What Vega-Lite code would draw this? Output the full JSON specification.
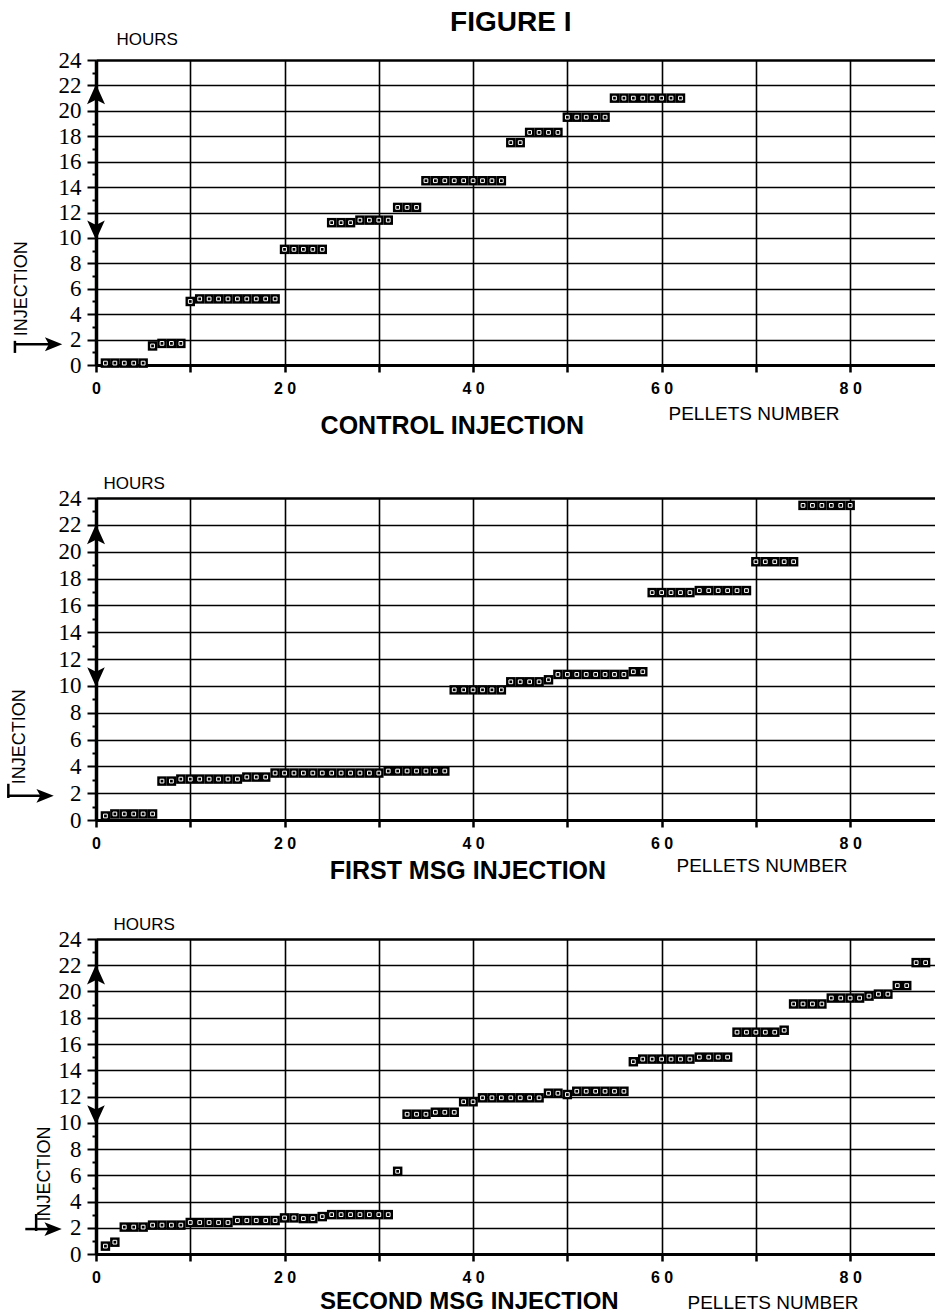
{
  "$schema": "https://vega.github.io/schema/vega-lite/v6.json",
  "background": "white",
  "padding": {"left": 6, "top": 8, "right": 0, "bottom": 0},
  "config": {
    "view": {"stroke": null},
    "font": "Liberation Sans",
    "axis": {"labelColor": "black", "titleColor": "black", "domainColor": "black", "tickColor": "black", "gridColor": "black"}
  },
  "datasets": {
    "p1": [
      {"n":1,"h":0.15},{"n":2,"h":0.15},{"n":3,"h":0.15},{"n":4,"h":0.15},{"n":5,"h":0.15},
      {"n":6,"h":1.5},{"n":7,"h":1.7},{"n":8,"h":1.7},{"n":9,"h":1.7},
      {"n":10,"h":5.0},{"n":11,"h":5.2},{"n":12,"h":5.2},{"n":13,"h":5.2},{"n":14,"h":5.2},{"n":15,"h":5.2},{"n":16,"h":5.2},{"n":17,"h":5.2},{"n":18,"h":5.2},{"n":19,"h":5.2},
      {"n":20,"h":9.1},{"n":21,"h":9.1},{"n":22,"h":9.1},{"n":23,"h":9.1},{"n":24,"h":9.1},
      {"n":25,"h":11.2},{"n":26,"h":11.2},{"n":27,"h":11.2},{"n":28,"h":11.4},{"n":29,"h":11.4},{"n":30,"h":11.4},{"n":31,"h":11.4},
      {"n":32,"h":12.4},{"n":33,"h":12.4},{"n":34,"h":12.4},
      {"n":35,"h":14.5},{"n":36,"h":14.5},{"n":37,"h":14.5},{"n":38,"h":14.5},{"n":39,"h":14.5},{"n":40,"h":14.5},{"n":41,"h":14.5},{"n":42,"h":14.5},{"n":43,"h":14.5},
      {"n":44,"h":17.5},{"n":45,"h":17.5},
      {"n":46,"h":18.3},{"n":47,"h":18.3},{"n":48,"h":18.3},{"n":49,"h":18.3},
      {"n":50,"h":19.5},{"n":51,"h":19.5},{"n":52,"h":19.5},{"n":53,"h":19.5},{"n":54,"h":19.5},
      {"n":55,"h":21.0},{"n":56,"h":21.0},{"n":57,"h":21.0},{"n":58,"h":21.0},{"n":59,"h":21.0},{"n":60,"h":21.0},{"n":61,"h":21.0},{"n":62,"h":21.0}
    ],
    "p2": [
      {"n":1,"h":0.3},{"n":2,"h":0.45},{"n":3,"h":0.45},{"n":4,"h":0.45},{"n":5,"h":0.45},{"n":6,"h":0.45},
      {"n":7,"h":2.9},{"n":8,"h":2.9},
      {"n":9,"h":3.05},{"n":10,"h":3.05},{"n":11,"h":3.05},{"n":12,"h":3.05},{"n":13,"h":3.05},{"n":14,"h":3.05},{"n":15,"h":3.05},
      {"n":16,"h":3.2},{"n":17,"h":3.2},{"n":18,"h":3.2},
      {"n":19,"h":3.5},{"n":20,"h":3.5},{"n":21,"h":3.5},{"n":22,"h":3.5},{"n":23,"h":3.5},{"n":24,"h":3.5},{"n":25,"h":3.5},{"n":26,"h":3.5},{"n":27,"h":3.5},{"n":28,"h":3.5},{"n":29,"h":3.5},{"n":30,"h":3.5},
      {"n":31,"h":3.65},{"n":32,"h":3.65},{"n":33,"h":3.65},{"n":34,"h":3.65},{"n":35,"h":3.65},{"n":36,"h":3.65},{"n":37,"h":3.65},
      {"n":38,"h":9.7},{"n":39,"h":9.7},{"n":40,"h":9.7},{"n":41,"h":9.7},{"n":42,"h":9.7},{"n":43,"h":9.7},
      {"n":44,"h":10.3},{"n":45,"h":10.3},{"n":46,"h":10.3},{"n":47,"h":10.3},{"n":48,"h":10.45},
      {"n":49,"h":10.85},{"n":50,"h":10.85},{"n":51,"h":10.85},{"n":52,"h":10.85},{"n":53,"h":10.85},{"n":54,"h":10.85},{"n":55,"h":10.85},{"n":56,"h":10.85},
      {"n":57,"h":11.05},{"n":58,"h":11.05},
      {"n":59,"h":16.95},{"n":60,"h":16.95},{"n":61,"h":16.95},{"n":62,"h":16.95},{"n":63,"h":16.95},
      {"n":64,"h":17.1},{"n":65,"h":17.1},{"n":66,"h":17.1},{"n":67,"h":17.1},{"n":68,"h":17.1},{"n":69,"h":17.1},
      {"n":70,"h":19.25},{"n":71,"h":19.25},{"n":72,"h":19.25},{"n":73,"h":19.25},{"n":74,"h":19.25},
      {"n":75,"h":23.45},{"n":76,"h":23.45},{"n":77,"h":23.45},{"n":78,"h":23.45},{"n":79,"h":23.45},{"n":80,"h":23.45}
    ],
    "p3": [
      {"n":1,"h":0.6},{"n":2,"h":0.9},
      {"n":3,"h":2.05},{"n":4,"h":2.05},{"n":5,"h":2.05},
      {"n":6,"h":2.2},{"n":7,"h":2.2},{"n":8,"h":2.2},{"n":9,"h":2.2},
      {"n":10,"h":2.4},{"n":11,"h":2.4},{"n":12,"h":2.4},{"n":13,"h":2.4},{"n":14,"h":2.4},
      {"n":15,"h":2.55},{"n":16,"h":2.55},{"n":17,"h":2.55},{"n":18,"h":2.55},{"n":19,"h":2.55},
      {"n":20,"h":2.75},{"n":21,"h":2.75},{"n":22,"h":2.7},{"n":23,"h":2.7},{"n":24,"h":2.85},
      {"n":25,"h":3.0},{"n":26,"h":3.0},{"n":27,"h":3.0},{"n":28,"h":3.0},{"n":29,"h":3.0},{"n":30,"h":3.0},{"n":31,"h":3.0},
      {"n":32,"h":6.3},
      {"n":33,"h":10.65},{"n":34,"h":10.65},{"n":35,"h":10.65},{"n":36,"h":10.8},{"n":37,"h":10.8},{"n":38,"h":10.8},
      {"n":39,"h":11.6},{"n":40,"h":11.6},
      {"n":41,"h":11.9},{"n":42,"h":11.9},{"n":43,"h":11.9},{"n":44,"h":11.9},{"n":45,"h":11.9},{"n":46,"h":11.9},{"n":47,"h":11.9},
      {"n":48,"h":12.25},{"n":49,"h":12.25},{"n":50,"h":12.15},
      {"n":51,"h":12.4},{"n":52,"h":12.4},{"n":53,"h":12.4},{"n":54,"h":12.4},{"n":55,"h":12.4},{"n":56,"h":12.4},
      {"n":57,"h":14.65},
      {"n":58,"h":14.85},{"n":59,"h":14.85},{"n":60,"h":14.85},{"n":61,"h":14.85},{"n":62,"h":14.85},{"n":63,"h":14.85},
      {"n":64,"h":15.0},{"n":65,"h":15.0},{"n":66,"h":15.0},{"n":67,"h":15.0},
      {"n":68,"h":16.9},{"n":69,"h":16.9},{"n":70,"h":16.9},{"n":71,"h":16.9},{"n":72,"h":16.9},{"n":73,"h":17.05},
      {"n":74,"h":19.05},{"n":75,"h":19.05},{"n":76,"h":19.05},{"n":77,"h":19.05},
      {"n":78,"h":19.5},{"n":79,"h":19.5},{"n":80,"h":19.5},{"n":81,"h":19.5},
      {"n":82,"h":19.65},{"n":83,"h":19.8},{"n":84,"h":19.8},
      {"n":85,"h":20.45},{"n":86,"h":20.45},
      {"n":87,"h":22.2},{"n":88,"h":22.2}
    ]
  },
  "spacing": 133,
  "bounds": "flush",
  "vconcat": [
    {
      "width": 839, "height": 305,
      "layer": [
        {"data": {"name": "p1"},
         "mark": {"type": "point", "shape": "square", "filled": true, "size": 90, "color": "black", "opacity": 1},
         "encoding": {
           "x": {"field": "n", "type": "quantitative", "scale": {"domain": [0, 89], "nice": false, "zero": false},
             "axis": {"values": [0,10,20,30,40,50,60,70,80], "tickCount": 30, "format": "d", "labelExpr": "datum.value % 20 !== 0 ? '' : (datum.value === 0 ? '0' : floor(datum.value/10) + ' 0')",
               "labelFont": "Liberation Sans", "labelFontWeight": "bold", "labelFontSize": 16, "labelPadding": 8, "labelFlush": false, "labelOverlap": false,
               "tickSize": 7, "tickWidth": 2.5, "grid": true, "gridWidth": 1.6, "domainWidth": 3,
               "title": "PELLETS NUMBER", "titleX": 572, "titleY": 54, "titleAlign": "left", "titleBaseline": "alphabetic", "titleFontSize": 19, "titleFontWeight": "normal", "titleFont": "Liberation Sans"}},
           "y": {"field": "h", "type": "quantitative", "scale": {"domain": [0, 24], "nice": false, "zero": false},
             "axis": {"values": [0,1,2,3,4,5,6,7,8,9,10,11,12,13,14,15,16,17,18,19,20,21,22,23,24], "tickCount": 40, "format": "d",
               "labelExpr": "datum.value % 2 === 0 ? datum.label : ''",
               "labelFont": "Liberation Serif", "labelFontSize": 23, "labelPadding": 6, "labelFlush": false, "labelOverlap": false,
               "tickSize": {"condition": {"test": "datum.value % 2 === 0", "value": 9}, "value": 4}, "tickWidth": 2,
               "grid": true, "gridOpacity": {"condition": {"test": "datum.value % 2 === 0", "value": 1}, "value": 0},
               "gridWidth": {"condition": {"test": "datum.value === 24", "value": 2.6}, "value": 1.6}, "domainWidth": 3.5,
               "title": "HOURS", "titleAngle": 0, "titleX": 20, "titleY": -16, "titleAlign": "left", "titleBaseline": "alphabetic", "titleFont": "Liberation Sans", "titleFontSize": 17, "titleFontWeight": "normal"}}
         }},
        {"data": {"name": "p1"},
         "mark": {"type": "point", "shape": "square", "filled": false, "size": 14, "stroke": "white", "strokeWidth": 1, "opacity": 1},
         "encoding": {
           "x": {"field": "n", "type": "quantitative", "scale": {"domain": [0, 89], "nice": false, "zero": false}},
           "y": {"field": "h", "type": "quantitative", "scale": {"domain": [0, 24], "nice": false, "zero": false}}}},
        {"data": {"values": [{}]},
         "mark": {"type": "point", "shape": "M0,-1L0.9,1L0,0.55L-0.9,1Z", "filled": true, "size": 400, "color": "black", "opacity": 1},
         "encoding": {"x": {"datum": 0, "type": "quantitative"}, "y": {"datum": 21.3, "type": "quantitative"}}},
        {"data": {"values": [{}]},
         "mark": {"type": "point", "shape": "M0,1L0.9,-1L0,-0.55L-0.9,-1Z", "filled": true, "size": 380, "color": "black", "opacity": 1},
         "encoding": {"x": {"datum": 0, "type": "quantitative"}, "y": {"datum": 10.6, "type": "quantitative"}}},
        {"data": {"values": [{}]},
         "mark": {"type": "point", "shape": "M1,0L-1,0.8L-0.55,0L-1,-0.8Z", "filled": true, "size": 300, "color": "black", "opacity": 1},
         "encoding": {"x": {"datum": -4.5, "type": "quantitative"}, "y": {"datum": 1.63, "type": "quantitative"}}},
        {"data": {"values": [{}]},
         "mark": {"type": "rule", "strokeWidth": 2.5, "color": "black"},
         "encoding": {"x": {"datum": -8.7, "type": "quantitative"}, "x2": {"datum": -4.8}, "y": {"datum": 1.63, "type": "quantitative"}}},
        {"data": {"values": [{}]},
         "mark": {"type": "rule", "strokeWidth": 2.5, "color": "black"},
         "encoding": {"x": {"datum": -8.6, "type": "quantitative"}, "y": {"datum": 0.95, "type": "quantitative"}, "y2": {"datum": 1.9}}},
        {"data": {"values": [{}]},
         "mark": {"type": "text", "angle": 270, "font": "Liberation Sans", "fontSize": 18, "align": "center", "baseline": "middle", "color": "black"},
         "encoding": {"x": {"datum": -7.9, "type": "quantitative"}, "y": {"datum": 6.0, "type": "quantitative"}, "text": {"value": "INJECTION"}}},
        {"data": {"values": [{}]},
         "mark": {"type": "text", "font": "Liberation Sans", "fontSize": 25, "fontWeight": "bold", "align": "center", "baseline": "alphabetic", "color": "black"},
         "encoding": {"x": {"datum": 37.8, "type": "quantitative"}, "y": {"datum": -5.43, "type": "quantitative"}, "text": {"value": "CONTROL  INJECTION"}}},
        {"data": {"values": [{}]},
         "mark": {"type": "text", "font": "Liberation Sans", "fontSize": 28, "fontWeight": "bold", "align": "center", "baseline": "alphabetic", "color": "black"},
         "encoding": {"x": {"datum": 44.0, "type": "quantitative"}, "y": {"datum": 26.3, "type": "quantitative"}, "text": {"value": "FIGURE I"}}}
      ]
    },
    {
      "spacing": 119,
      "bounds": "flush",
      "vconcat": [
        {
          "width": 839, "height": 322,
          "layer": [
            {"data": {"name": "p2"},
             "mark": {"type": "point", "shape": "square", "filled": true, "size": 90, "color": "black", "opacity": 1},
             "encoding": {
               "x": {"field": "n", "type": "quantitative", "scale": {"domain": [0, 89], "nice": false, "zero": false},
                 "axis": {"values": [0,10,20,30,40,50,60,70,80], "tickCount": 30, "format": "d", "labelExpr": "datum.value % 20 !== 0 ? '' : (datum.value === 0 ? '0' : floor(datum.value/10) + ' 0')",
                   "labelFont": "Liberation Sans", "labelFontWeight": "bold", "labelFontSize": 16, "labelPadding": 8, "labelFlush": false, "labelOverlap": false,
                   "tickSize": 7, "tickWidth": 2.5, "grid": true, "gridWidth": 1.6, "domainWidth": 3,
                   "title": "PELLETS NUMBER", "titleX": 580, "titleY": 51, "titleAlign": "left", "titleBaseline": "alphabetic", "titleFontSize": 19, "titleFontWeight": "normal", "titleFont": "Liberation Sans"}},
               "y": {"field": "h", "type": "quantitative", "scale": {"domain": [0, 24], "nice": false, "zero": false},
                 "axis": {"values": [0,1,2,3,4,5,6,7,8,9,10,11,12,13,14,15,16,17,18,19,20,21,22,23,24], "tickCount": 40, "format": "d",
                   "labelExpr": "datum.value % 2 === 0 ? datum.label : ''",
                   "labelFont": "Liberation Serif", "labelFontSize": 23, "labelPadding": 6, "labelFlush": false, "labelOverlap": false,
                   "tickSize": {"condition": {"test": "datum.value % 2 === 0", "value": 9}, "value": 4}, "tickWidth": 2,
                   "grid": true, "gridOpacity": {"condition": {"test": "datum.value % 2 === 0", "value": 1}, "value": 0},
                   "gridWidth": {"condition": {"test": "datum.value === 24", "value": 2.6}, "value": 1.6}, "domainWidth": 3.5,
                   "title": "HOURS", "titleAngle": 0, "titleX": 7, "titleY": -10, "titleAlign": "left", "titleBaseline": "alphabetic", "titleFont": "Liberation Sans", "titleFontSize": 17, "titleFontWeight": "normal"}}
             }},
            {"data": {"name": "p2"},
             "mark": {"type": "point", "shape": "square", "filled": false, "size": 14, "stroke": "white", "strokeWidth": 1, "opacity": 1},
             "encoding": {
               "x": {"field": "n", "type": "quantitative", "scale": {"domain": [0, 89], "nice": false, "zero": false}},
               "y": {"field": "h", "type": "quantitative", "scale": {"domain": [0, 24], "nice": false, "zero": false}}}},
            {"data": {"values": [{}]},
             "mark": {"type": "point", "shape": "M0,-1L0.9,1L0,0.55L-0.9,1Z", "filled": true, "size": 400, "color": "black", "opacity": 1},
             "encoding": {"x": {"datum": 0, "type": "quantitative"}, "y": {"datum": 21.3, "type": "quantitative"}}},
            {"data": {"values": [{}]},
             "mark": {"type": "point", "shape": "M0,1L0.9,-1L0,-0.55L-0.9,-1Z", "filled": true, "size": 380, "color": "black", "opacity": 1},
             "encoding": {"x": {"datum": 0, "type": "quantitative"}, "y": {"datum": 10.65, "type": "quantitative"}}},
            {"data": {"values": [{}]},
             "mark": {"type": "point", "shape": "M1,0L-1,0.8L-0.55,0L-1,-0.8Z", "filled": true, "size": 300, "color": "black", "opacity": 1},
             "encoding": {"x": {"datum": -5.4, "type": "quantitative"}, "y": {"datum": 1.8, "type": "quantitative"}}},
            {"data": {"values": [{}]},
             "mark": {"type": "rule", "strokeWidth": 2.5, "color": "black"},
             "encoding": {"x": {"datum": -9.4, "type": "quantitative"}, "x2": {"datum": -5.7}, "y": {"datum": 1.8, "type": "quantitative"}}},
            {"data": {"values": [{}]},
             "mark": {"type": "rule", "strokeWidth": 2.5, "color": "black"},
             "encoding": {"x": {"datum": -9.3, "type": "quantitative"}, "y": {"datum": 1.64, "type": "quantitative"}, "y2": {"datum": 2.7}}},
            {"data": {"values": [{}]},
             "mark": {"type": "text", "angle": 270, "font": "Liberation Sans", "fontSize": 18, "align": "center", "baseline": "middle", "color": "black"},
             "encoding": {"x": {"datum": -8.05, "type": "quantitative"}, "y": {"datum": 6.2, "type": "quantitative"}, "text": {"value": "INJECTION"}}},
            {"data": {"values": [{}]},
             "mark": {"type": "text", "font": "Liberation Sans", "fontSize": 25, "fontWeight": "bold", "align": "center", "baseline": "alphabetic", "color": "black"},
             "encoding": {"x": {"datum": 39.45, "type": "quantitative"}, "y": {"datum": -4.4, "type": "quantitative"}, "text": {"value": "FIRST  MSG  INJECTION"}}}
          ]
        },
        {
          "width": 839, "height": 315,
          "layer": [
            {"data": {"name": "p3"},
             "mark": {"type": "point", "shape": "square", "filled": true, "size": 90, "color": "black", "opacity": 1},
             "encoding": {
               "x": {"field": "n", "type": "quantitative", "scale": {"domain": [0, 89], "nice": false, "zero": false},
                 "axis": {"values": [0,10,20,30,40,50,60,70,80], "tickCount": 30, "format": "d", "labelExpr": "datum.value % 20 !== 0 ? '' : (datum.value === 0 ? '0' : floor(datum.value/10) + ' 0')",
                   "labelFont": "Liberation Sans", "labelFontWeight": "bold", "labelFontSize": 16, "labelPadding": 8, "labelFlush": false, "labelOverlap": false,
                   "tickSize": 7, "tickWidth": 2.5, "grid": true, "gridWidth": 1.6, "domainWidth": 3,
                   "title": "PELLETS NUMBER", "titleX": 591, "titleY": 54, "titleAlign": "left", "titleBaseline": "alphabetic", "titleFontSize": 19, "titleFontWeight": "normal", "titleFont": "Liberation Sans"}},
               "y": {"field": "h", "type": "quantitative", "scale": {"domain": [0, 24], "nice": false, "zero": false},
                 "axis": {"values": [0,1,2,3,4,5,6,7,8,9,10,11,12,13,14,15,16,17,18,19,20,21,22,23,24], "tickCount": 40, "format": "d",
                   "labelExpr": "datum.value % 2 === 0 ? datum.label : ''",
                   "labelFont": "Liberation Serif", "labelFontSize": 23, "labelPadding": 6, "labelFlush": false, "labelOverlap": false,
                   "tickSize": {"condition": {"test": "datum.value % 2 === 0", "value": 9}, "value": 4}, "tickWidth": 2,
                   "grid": true, "gridOpacity": {"condition": {"test": "datum.value % 2 === 0", "value": 1}, "value": 0},
                   "gridWidth": {"condition": {"test": "datum.value === 24", "value": 2.6}, "value": 1.6}, "domainWidth": 3.5,
                   "title": "HOURS", "titleAngle": 0, "titleX": 17, "titleY": -10, "titleAlign": "left", "titleBaseline": "alphabetic", "titleFont": "Liberation Sans", "titleFontSize": 17, "titleFontWeight": "normal"}}
             }},
            {"data": {"name": "p3"},
             "mark": {"type": "point", "shape": "square", "filled": false, "size": 14, "stroke": "white", "strokeWidth": 1, "opacity": 1},
             "encoding": {
               "x": {"field": "n", "type": "quantitative", "scale": {"domain": [0, 89], "nice": false, "zero": false}},
               "y": {"field": "h", "type": "quantitative", "scale": {"domain": [0, 24], "nice": false, "zero": false}}}},
            {"data": {"values": [{}]},
             "mark": {"type": "point", "shape": "M0,-1L0.9,1L0,0.55L-0.9,1Z", "filled": true, "size": 400, "color": "black", "opacity": 1},
             "encoding": {"x": {"datum": 0, "type": "quantitative"}, "y": {"datum": 21.3, "type": "quantitative"}}},
            {"data": {"values": [{}]},
             "mark": {"type": "point", "shape": "M0,1L0.9,-1L0,-0.55L-0.9,-1Z", "filled": true, "size": 380, "color": "black", "opacity": 1},
             "encoding": {"x": {"datum": 0, "type": "quantitative"}, "y": {"datum": 10.6, "type": "quantitative"}}},
            {"data": {"values": [{}]},
             "mark": {"type": "point", "shape": "M1,0L-1,0.8L-0.55,0L-1,-0.8Z", "filled": true, "size": 300, "color": "black", "opacity": 1},
             "encoding": {"x": {"datum": -4.55, "type": "quantitative"}, "y": {"datum": 1.9, "type": "quantitative"}}},
            {"data": {"values": [{}]},
             "mark": {"type": "rule", "strokeWidth": 2.5, "color": "black"},
             "encoding": {"x": {"datum": -7.5, "type": "quantitative"}, "x2": {"datum": -4.8}, "y": {"datum": 1.9, "type": "quantitative"}}},
            {"data": {"values": [{}]},
             "mark": {"type": "rule", "strokeWidth": 2.5, "color": "black"},
             "encoding": {"x": {"datum": -6.35, "type": "quantitative"}, "y": {"datum": 1.75, "type": "quantitative"}, "y2": {"datum": 3.05}}},
            {"data": {"values": [{}]},
             "mark": {"type": "text", "angle": 270, "font": "Liberation Sans", "fontSize": 18, "align": "center", "baseline": "middle", "color": "black"},
             "encoding": {"x": {"datum": -5.4, "type": "quantitative"}, "y": {"datum": 6.1, "type": "quantitative"}, "text": {"value": "INJECTION"}}},
            {"data": {"values": [{}]},
             "mark": {"type": "text", "font": "Liberation Sans", "fontSize": 24, "fontWeight": "bold", "align": "center", "baseline": "alphabetic", "color": "black"},
             "encoding": {"x": {"datum": 39.6, "type": "quantitative"}, "y": {"datum": -4.2, "type": "quantitative"}, "text": {"value": "SECOND  MSG  INJECTION"}}}
          ]
        }
      ]
    }
  ]
}
